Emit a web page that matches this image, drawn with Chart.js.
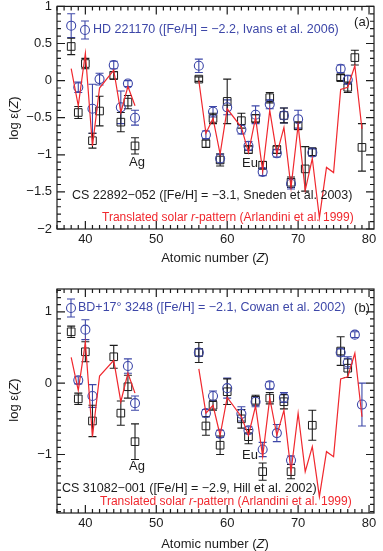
<!DOCTYPE html>
<html>
<head>
<meta charset="utf-8">
<script src="https://cdn.jsdelivr.net/npm/chart.js@4.4.1/dist/chart.umd.min.js"></script>
<style>
  html, body { margin: 0; padding: 0; background: #fff; }
  .panel { position: relative; width: 383px; }
  #wrapA { height: 276px; }
  #wrapB { height: 275px; }
</style>
</head>
<body>
<div class="panel" id="wrapA"><canvas id="chartA"></canvas></div>
<div class="panel" id="wrapB"><canvas id="chartB"></canvas></div>
<script>
// ---- Data ----
// translated solar r-pattern (null at 48 breaks the line)
const zRed = [38,39,40,41,42,44,45,46,47,48,56,57,58,59,60,62,63,64,65,66,67,68,69,70,71,72,73,74,75,76,77,78,79];
const redA = [0.16,-0.34,0.37,-0.88,-0.10,0.14,-0.43,-0.08,-0.34,null,0.00,-0.71,-0.51,-0.99,-0.38,-0.63,-0.97,-0.50,-1.22,-0.40,-0.99,-0.63,-1.44,-0.60,-1.48,-1.05,-1.85,-1.17,-1.24,-0.12,-0.09,0.20,-0.65];
const redB = [0.36,-0.10,0.57,-0.75,0.10,0.32,-0.26,0.14,-0.14,null,0.20,-0.42,-0.31,-0.73,-0.20,-0.47,-0.73,-0.32,-1.03,-0.21,-0.73,-0.38,-1.24,-0.42,-1.24,-0.89,-1.59,-0.96,-1.03,0.06,0.09,0.42,-0.47];

// panel (a): HD 221170 (blue) and CS 22892-052 (black)
const zBlueA   = [38,39,41,42,44,45,46,47,56,57,58,59,60,62,63,64,65,66,67,68,69,70,72,76,77];
const blueA    = [0.74,-0.09,-0.38,0.02,0.21,-0.36,-0.04,-0.50,0.20,-0.73,-0.42,-1.05,-0.36,-0.66,-0.88,-0.46,-1.23,-0.32,-0.98,-0.47,-1.39,-0.52,-0.97,0.16,0.01];
const blueErrA = [0.16,0.07,0.33,0.08,0.05,0.22,0.04,0.10,0.09,0.05,0.07,0.06,0.10,0.06,0.06,0.12,0.05,0.06,0.05,0.10,0.07,0.12,0.05,0.05,0.06];
const zBlackA   = [38,39,40,41,42,44,45,46,47,56,57,58,59,60,62,63,64,65,66,67,68,69,70,71,72,76,77,78,79];
const blackA    = [0.46,-0.43,0.23,-0.81,-0.41,0.07,-0.56,-0.29,-0.88,0.02,-0.85,-0.51,-1.07,-0.28,-0.54,-0.93,-0.51,-1.14,-0.23,-0.93,-0.47,-1.37,-0.61,-1.19,-0.96,0.04,-0.09,0.31,-0.90];
const blackErrA = [0.11,0.08,0.07,0.10,0.20,0.05,0.13,0.09,0.11,0.03,0.05,0.07,0.08,0.30,0.10,0.05,0.05,0.05,0.07,0.05,0.10,0.07,0.05,0.30,0.05,0.04,0.07,0.10,0.32];

// panel (b): BD+17 3248 (blue) and CS 31082-001 (black)
const zBlueB   = [39,40,41,46,47,56,57,58,59,60,62,63,64,65,66,67,68,69,76,77,78,79];
const blueB    = [0.04,0.75,-0.18,0.24,-0.28,0.43,-0.42,-0.18,-0.71,-0.07,-0.43,-0.66,-0.26,-0.93,-0.03,-0.70,-0.20,-1.08,0.43,0.29,0.68,-0.30];
const blueErrB = [0.05,0.14,0.16,0.10,0.10,0.05,0.05,0.07,0.05,0.14,0.10,0.05,0.07,0.10,0.05,0.12,0.07,0.06,0.05,0.08,0.04,0.30];
const zBlackB   = [38,39,40,41,44,45,46,47,56,57,58,59,60,62,63,64,65,66,68,69,72,76,77];
const blackB    = [0.72,-0.22,0.44,-0.53,0.37,-0.42,-0.05,-0.82,0.43,-0.60,-0.31,-0.87,-0.12,-0.50,-0.75,-0.24,-1.24,-0.21,-0.26,-1.24,-0.59,0.45,0.21];
const blackErrB = [0.08,0.08,0.14,0.22,0.16,0.17,0.16,0.25,0.14,0.13,0.07,0.13,0.18,0.13,0.10,0.07,0.12,0.08,0.10,0.10,0.21,0.20,0.13];

// ---- Ticks ----
const xTicks  = [40, 50, 60, 70, 80];
const yTicksA = [1, 0.5, 0, -0.5, -1, -1.5, -2];
const yTicksB = [1, 0, -1];

// ---- Style ----
const FAM  = '"Liberation Sans", Arial, Helvetica, sans-serif';
const BLUE = '#3d47a8';
const INK  = '#1c1c1c';
const RED  = '#f0282e';

const pts = (zs, vs) => zs.map((z, i) => ({ x: z, y: vs[i] }));
const minus = s => String(s).replace('-', '\u2212');

// per-panel decorations (page layout, not data)
const panels = {
  chartA: {
    yMajor: 5,
    marker: { x: 85, y: 30 },
    texts: [
      { parts: [['HD 221170 ([Fe/H] = \u22122.2, Ivans et al. 2006)']], x: 93, y: 30, size: 12.5, color: BLUE },
      { parts: [['(a)']], x: 362, y: 22, size: 13, align: 'center' },
      { parts: [['CS 22892\u2212052 ([Fe/H] = \u22123.1, Sneden et al. 2003)']], x: 72, y: 196, size: 12.5 },
      { parts: [['Translated solar '], ['r', 1], ['-pattern (Arlandini et al. 1999)']], x: 102, y: 218, color: RED },
      { parts: [['Ag']], x: 137, y: 162, size: 13, align: 'center' },
      { parts: [['Eu']], x: 250, y: 163, size: 13, align: 'center' },
      { parts: [['Atomic number ('], ['Z', 1], [')']], x: 215, y: 258, size: 13, align: 'center' },
      { parts: [['log \u03b5('], ['Z', 1], [')']], x: 14, y: 118, size: 13, align: 'center', rot: true }
    ]
  },
  chartB: {
    yMajor: 10,
    marker: { x: 71, y: 32 },
    texts: [
      { parts: [['BD+17\u00b0 3248 ([Fe/H] = \u22122.1, Cowan et al. 2002)']], x: 78, y: 32, size: 12.5, color: BLUE },
      { parts: [['(b)']], x: 362, y: 32, size: 13, align: 'center' },
      { parts: [['CS 31082\u2212001 ([Fe/H] = \u22122.9, Hill et al. 2002)']], x: 62, y: 213, size: 12.5 },
      { parts: [['Translated solar '], ['r', 1], ['-pattern (Arlandini et al. 1999)']], x: 100, y: 226, color: RED },
      { parts: [['Ag']], x: 137, y: 190, size: 13, align: 'center' },
      { parts: [['Eu']], x: 250, y: 179, size: 13, align: 'center' },
      { parts: [['Atomic number ('], ['Z', 1], [')']], x: 215, y: 268, size: 13, align: 'center' },
      { parts: [['log \u03b5('], ['Z', 1], [')']], x: 14, y: 124, size: 13, align: 'center', rot: true }
    ]
  }
};

function drawRich(ctx, t) {
  const size = t.size || 12;
  const fonts = t.parts.map(p => (p[1] ? 'italic ' : '') + size + 'px ' + FAM);
  let w = 0;
  const ws = t.parts.map((p, i) => { ctx.font = fonts[i]; const m = ctx.measureText(p[0]).width; w += m; return m; });
  ctx.save();
  ctx.translate(t.x, t.y);
  if (t.rot) ctx.rotate(-Math.PI / 2);
  let cx = t.align === 'center' ? -w / 2 : 0;
  ctx.fillStyle = t.color || INK;
  ctx.textBaseline = 'middle';
  ctx.textAlign = 'left';
  t.parts.forEach((p, i) => { ctx.font = fonts[i]; ctx.fillText(p[0], cx, 0); cx += ws[i]; });
  ctx.restore();
}

function errBar(ctx, px, y1, y2) {
  ctx.moveTo(px, y1); ctx.lineTo(px, y2);
  ctx.moveTo(px - 4, y1); ctx.lineTo(px + 4, y1);
  ctx.moveTo(px - 4, y2); ctx.lineTo(px + 4, y2);
}

// ---- Plugin: error bars, frame with inward ticks, labels ----
const decor = {
  id: 'decor',
  beforeDatasetsDraw(chart) {
    const { ctx, scales: { x, y } } = chart;
    chart.data.datasets.forEach(ds => {
      if (!ds.errors) return;
      ctx.save();
      ctx.strokeStyle = ds.borderColor;
      ctx.lineWidth = 1.1;
      ctx.beginPath();
      ds.data.forEach((p, i) => {
        const e = ds.errors[i];
        errBar(ctx, x.getPixelForValue(p.x), y.getPixelForValue(p.y + e), y.getPixelForValue(p.y - e));
      });
      ctx.stroke();
      ctx.restore();
    });
  },
  afterDraw(chart) {
    const p = panels[chart.canvas.id];
    const { ctx, chartArea: a, scales: { x, y } } = chart;
    ctx.save();
    ctx.strokeStyle = INK;
    ctx.lineWidth = 1.2;
    ctx.strokeRect(a.left, a.top, a.right - a.left, a.bottom - a.top);
    ctx.beginPath();
    for (let z = Math.ceil(x.min); z <= x.max; z++) {
      const px = x.getPixelForValue(z);
      const L = z % 10 === 0 ? 8 : 4;
      ctx.moveTo(px, a.bottom); ctx.lineTo(px, a.bottom - L);
      ctx.moveTo(px, a.top); ctx.lineTo(px, a.top + L);
    }
    for (let k = Math.ceil(y.min * 10); k <= Math.floor(y.max * 10); k++) {
      const py = y.getPixelForValue(k / 10);
      const L = k % p.yMajor === 0 ? 8 : 4;
      ctx.moveTo(a.left, py); ctx.lineTo(a.left + L, py);
      ctx.moveTo(a.right, py); ctx.lineTo(a.right - L, py);
    }
    ctx.stroke();

    // legend marker: circle with error bar
    const m = p.marker;
    ctx.strokeStyle = BLUE;
    ctx.lineWidth = 1.1;
    ctx.beginPath();
    errBar(ctx, m.x, m.y - 9, m.y + 9);
    ctx.stroke();
    ctx.beginPath();
    ctx.arc(m.x, m.y, 4.5, 0, Math.PI * 2);
    ctx.stroke();
    ctx.restore();

    p.texts.forEach(t => drawRich(ctx, t));
  }
};

function makeChart(id, o) {
  return new Chart(document.getElementById(id), {
    type: 'scatter',
    data: {
      datasets: [
        { label: 'solar r', data: pts(zRed, o.red), showLine: true, spanGaps: false,
          borderColor: RED, borderWidth: 1.2, pointRadius: 0, tension: 0, order: 0 },
        { label: 'blue star', data: pts(o.zBlue, o.blue), errors: o.blueErr,
          pointStyle: 'circle', pointRadius: 4.5, borderColor: BLUE,
          backgroundColor: 'rgba(0,0,0,0)', borderWidth: 1.1, order: 1 },
        { label: 'black star', data: pts(o.zBlack, o.black), errors: o.blackErr,
          pointStyle: 'rect', pointRadius: 5.4, borderColor: INK,
          backgroundColor: 'rgba(0,0,0,0)', borderWidth: 1.0, order: 2 }
      ]
    },
    options: {
      responsive: true,
      maintainAspectRatio: false,
      animation: false,
      events: [],
      layout: { padding: { top: o.top, right: 9, left: 0, bottom: 0 } },
      plugins: { legend: { display: false }, tooltip: { enabled: false } },
      scales: {
        x: {
          type: 'linear', min: 36, max: 80.7,
          grid: { display: false, drawTicks: false }, border: { display: false },
          ticks: { font: { family: FAM, size: 13 }, color: INK, padding: 3, maxRotation: 0, autoSkip: false },
          afterBuildTicks: s => { s.ticks = xTicks.map(v => ({ value: v })); },
          afterFit: s => { s.height = o.xAxisH; s.paddingLeft = 0; s.paddingRight = 0; }
        },
        y: {
          type: 'linear', min: o.ymin, max: o.ymax,
          grid: { display: false, drawTicks: false }, border: { display: false },
          ticks: { font: { family: FAM, size: 13 }, color: INK, padding: 5, callback: v => minus(v) },
          afterBuildTicks: s => { s.ticks = o.yTicks.map(v => ({ value: v })); },
          afterFit: s => { s.width = 57; s.paddingTop = 0; s.paddingBottom = 0; }
        }
      }
    },
    plugins: [decor]
  });
}

makeChart('chartA', {
  red: redA, zBlue: zBlueA, blue: blueA, blueErr: blueErrA,
  zBlack: zBlackA, black: blackA, blackErr: blackErrA,
  ymin: -2, ymax: 1, yTicks: yTicksA, top: 5, xAxisH: 47
});
makeChart('chartB', {
  red: redB, zBlue: zBlueB, blue: blueB, blueErr: blueErrB,
  zBlack: zBlackB, black: blackB, blackErr: blackErrB,
  ymin: -1.82, ymax: 1.32, yTicks: yTicksB, top: 13, xAxisH: 38
});
</script>
</body>
</html>
